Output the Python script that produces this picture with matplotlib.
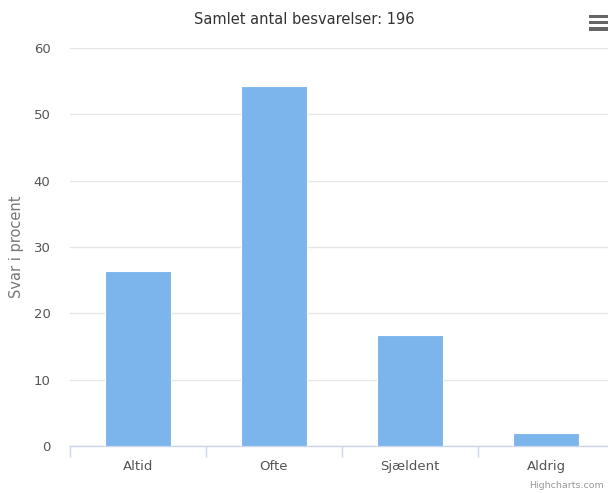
import numpy as np
import matplotlib.pyplot as plt
from matplotlib.patches import Rectangle

categories = ["Altid", "Ofte", "Sjældent", "Aldrig"]
values = [26.4, 54.3, 16.7, 2.0]
title = "Samlet antal besvarelser: 196"
y_label = "Svar i procent"
y_ticks = [0, 10, 20, 30, 40, 50, 60]

W, H = 608, 493
fig = plt.figure(figsize=(W / 100, H / 100), dpi=100)
plt.rcParams['font.family'] = ['DejaVu Sans']

# plot area in pixels: left 70, right 614 (cropped), top 48, bottom 446
left, right, top, bottom = 70, 614, 48, 446
ax = fig.add_axes([left / W, (H - bottom) / H, (right - left) / W, (bottom - top) / H])

x = np.arange(len(categories))
ax.bar(x, values, width=0.48, color='#7cb5ec', edgecolor='white', linewidth=0.8, zorder=3)

ax.set_xlim(-0.5, len(categories) - 0.5)
ax.set_ylim(0, 60)
ax.set_yticks(y_ticks)
ax.grid(axis='y', color='#e6e6e6', linewidth=1, zorder=0)
for s in ['top', 'right', 'left']:
    ax.spines[s].set_visible(False)
ax.spines['bottom'].set_color('#ccd6eb')
ax.spines['bottom'].set_linewidth(1)

ax.set_xticks(x)
ax.set_xticklabels(categories, color='#555555', fontsize=9.5)
ax.tick_params(axis='x', which='major', length=0, pad=10)
ax.set_xticks(np.arange(len(categories) + 1) - 0.5, minor=True)
ax.tick_params(axis='x', which='minor', length=8, color='#ccd6eb', width=1)
ax.tick_params(axis='y', length=0, pad=14, labelcolor='#555555', labelsize=9.5)

ax.set_ylabel(y_label, color='#777777', fontsize=10.5, labelpad=8)
ax.yaxis.set_label_coords(-(left - 24) / (right - left), 0.5)

fig.text(304 / W, 1 - 20 / H, title, ha='center', va='center', color='#333333', fontsize=10.5)
fig.text(529 / W, 1 - 486 / H, "Highcharts.com", ha='left', va='center', color='#999999', fontsize=6.8)

# menu icon
for yy in [16.5, 22.5, 29]:
    fig.add_artist(Rectangle((589 / W, 1 - (yy + 1.7) / H), 22 / W, 3.4 / H,
                             transform=fig.transFigure, color='#666666', linewidth=0))

fig.savefig('out.png', dpi=100)
